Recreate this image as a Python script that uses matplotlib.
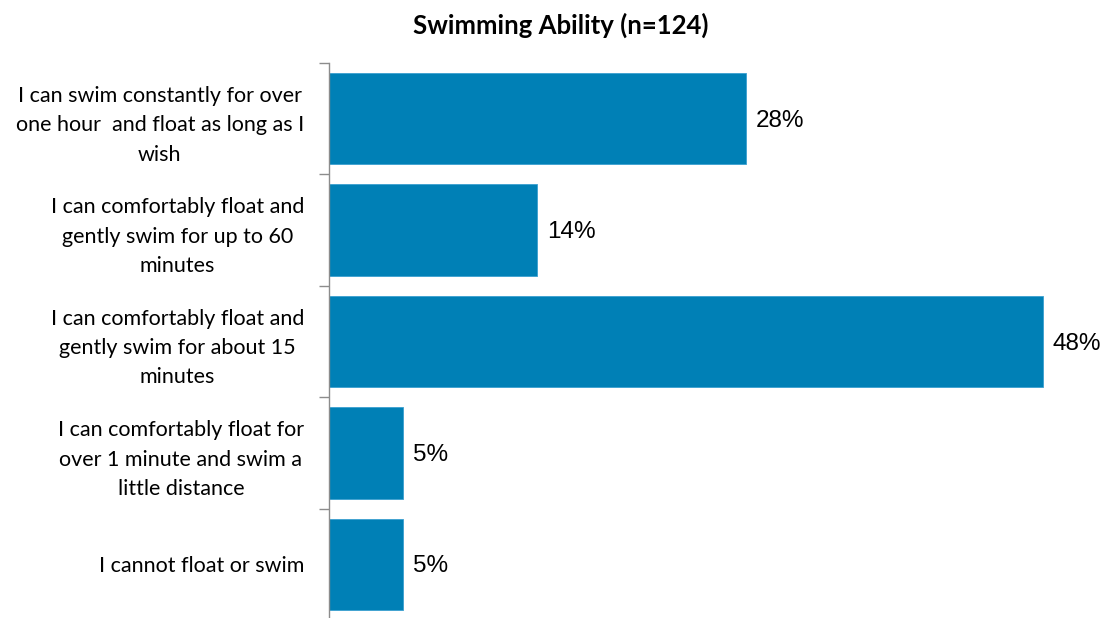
import matplotlib
matplotlib.use("Agg")
import matplotlib.pyplot as plt
import numpy as np

categories = [
    "I can swim constantly for over\none hour  and float as long as I\nwish",
    "I can comfortably float and\ngently swim for up to 60\nminutes",
    "I can comfortably float and\ngently swim for about 15\nminutes",
    "I can comfortably float for\nover 1 minute and swim a\nlittle distance",
    "I cannot float or swim",
]
values = [28, 14, 48, 5, 5]
value_labels = ["28%", "14%", "48%", "5%", "5%"]
title = "Swimming Ability (n=124)"

bar_color = "#0080B6"

fig = plt.figure(figsize=(11.08, 6.18), dpi=100)
ax = fig.add_axes([329 / 1108, -2 / 618, (1073 - 329) / 1108, (620 - 63) / 618])

y = np.arange(len(categories))
ax.barh(y, values, height=0.82, color=bar_color, edgecolor="#3A9FD0", linewidth=0.6)

ax.set_xlim(0, 50)
ax.set_ylim(len(categories) - 0.5, -0.5)

for yi, v, lab in zip(y, values, value_labels):
    ax.annotate(lab, xy=(v, yi), xytext=(7, -1.5), textcoords="offset points",
                va="center", ha="left", fontsize=17.5,
                family="Liberation Sans", color="black")

for s in ["top", "right", "bottom"]:
    ax.spines[s].set_visible(False)
ax.spines["left"].set_color("#8C8C8C")
ax.spines["left"].set_linewidth(1.0)

ax.set_xticks([])
ax.set_yticks(y)
ax.set_yticklabels(categories, fontsize=15.5, family="Lato", ha="right",
                   multialignment="center", linespacing=1.58)
ax.tick_params(axis="y", which="major", length=0, pad=18)
ax.set_yticks(np.arange(-0.5, len(categories), 1.0), minor=True)
ax.tick_params(axis="y", which="minor", length=7, color="#8C8C8C", width=1.0)

fig.text(561 / 1108, 1 - 25 / 618, title, ha="center", va="center",
         fontsize=18.5, fontweight="bold", family="Lato")

fig.savefig("out.png", dpi=100)
